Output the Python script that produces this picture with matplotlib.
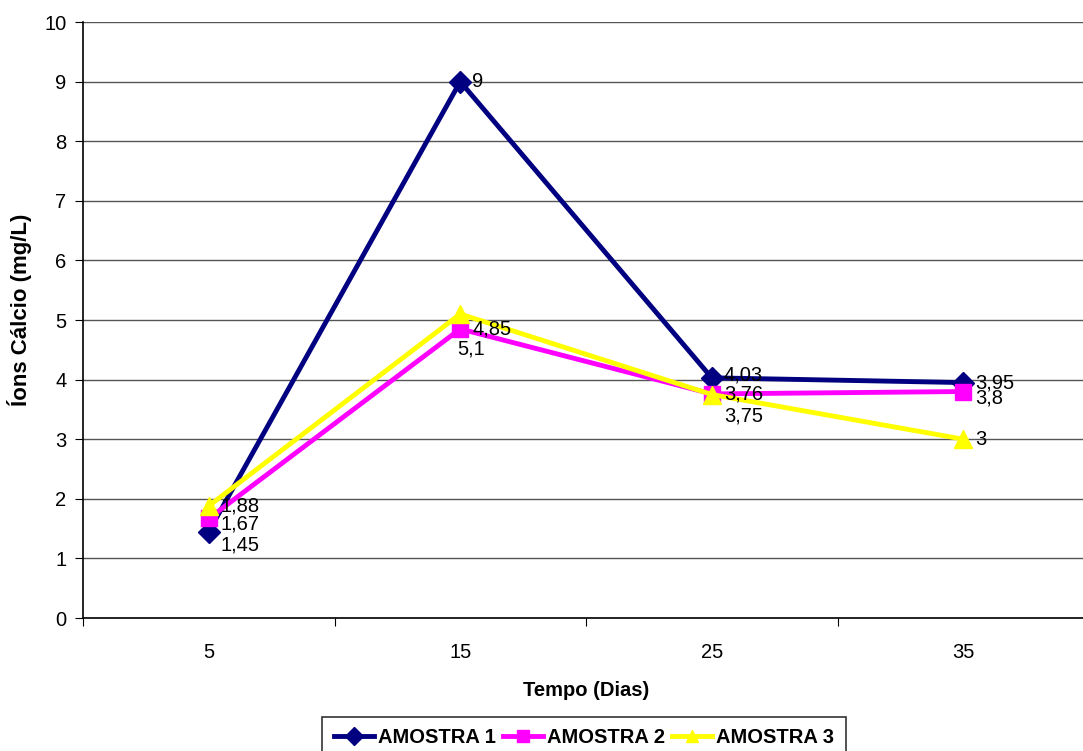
import numpy as np
import matplotlib
matplotlib.use('Agg')
import matplotlib.pyplot as plt

plt.rcParams['font.family'] = ['Liberation Sans', 'DejaVu Sans']

dias = ['5', '15', '25', '35']
amostra1 = [1.45, 9, 4.03, 3.95]
amostra2 = [1.67, 4.85, 3.76, 3.8]
amostra3 = [1.88, 5.1, 3.75, 3]
nomes = ['AMOSTRA 1', 'AMOSTRA 2', 'AMOSTRA 3']

# deslocamento dos rótulos (pixels), como o Excel os deixou
desl1 = [(12, -13), (12, 0), (12, 3), (12, 0)]
desl2 = [(12, -6), (12, 0), (12, 0), (12, -6)]
desl3 = [(12, 0), (-3, -35), (12, -21), (12, 0)]

fig = plt.figure(figsize=(10.83, 7.51), dpi=100, facecolor='w')
ax = fig.add_axes([83 / 1083, 1 - 618 / 751, 1006 / 1083, 596 / 751])

x = np.arange(len(dias))
estilos = [('#000080', 'D', 11), ('#FF00FF', 's', 11), ('#FFFF00', '^', 13)]
series = [amostra1, amostra2, amostra3]
deslocs = [desl1, desl2, desl3]
for y, (cor, mk, ms), nome in zip(series, estilos, nomes):
    ax.plot(x, y, color=cor, marker=mk, markersize=ms, linewidth=3.5,
            markeredgecolor=cor, label=nome, zorder=3)

for y, d in zip(series, deslocs):
    for xi, yi, (dx, dy) in zip(x, y, d):
        txt = ('%g' % yi).replace('.', ',')
        ax.annotate(txt, (xi, yi), xytext=(dx, dy), textcoords='offset pixels',
                    ha='left', va='center', fontsize=14.5, zorder=4)

ax.set_xlim(-0.5, 3.5)
ax.set_ylim(0, 10)
ax.set_yticks(range(11))
ax.yaxis.grid(True, color='#555555', linewidth=1)
ax.set_axisbelow(True)
ax.set_xticks(np.arange(-0.5, 4, 1))
ax.set_xticklabels([])
ax.set_xticks(x, minor=True)
ax.set_xticklabels(dias, minor=True)
ax.tick_params(axis='x', which='minor', length=0, pad=18, labelsize=14.5)
ax.tick_params(axis='x', which='major', length=6, direction='out')
ax.tick_params(axis='y', length=6, direction='out', labelsize=14.5, pad=6)
for s in ['top', 'right']:
    ax.spines[s].set_visible(False)
ax.spines['left'].set_linewidth(1.2)
ax.spines['bottom'].set_linewidth(1.2)

fig.text(586 / 1083, 1 - 690 / 751, 'Tempo (Dias)', ha='center', va='center',
         fontsize=14.5, fontweight='bold')
fig.text(20 / 1083, 1 - 310 / 751, 'Íons Cálcio (mg/L)', ha='center', va='center',
         rotation=90, fontsize=16, fontweight='bold')

leg = fig.legend(loc='upper center', bbox_to_anchor=(584 / 1083, 1 - 717 / 751),
                 ncol=3, frameon=True, fancybox=False, edgecolor='black',
                 prop={'weight': 'bold', 'size': 14.5}, handlelength=2.0,
                 handletextpad=0.2, columnspacing=0.35, borderpad=0.55,
                 borderaxespad=0)
leg.get_frame().set_linewidth(1.2)
for ln in leg.get_lines():
    ln.set_markersize(9)
    ln.set_linewidth(3.5)

fig.savefig('out.png', dpi=100)
